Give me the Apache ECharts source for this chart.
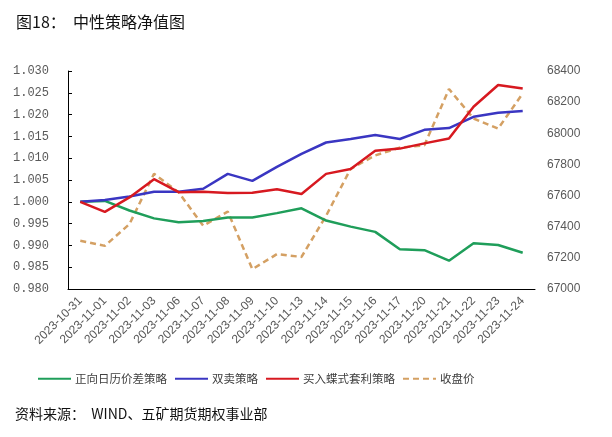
<!DOCTYPE html>
<html><head><meta charset="utf-8">
<script src="https://cdn.jsdelivr.net/npm/echarts@6/dist/echarts.min.js"></script>
<style>html,body{margin:0;padding:0;background:#fff}#c{width:612px;height:437px}</style>
</head><body><div id="c"></div>
<script>
var categories = ['2023-10-31','2023-11-01','2023-11-02','2023-11-03','2023-11-06','2023-11-07','2023-11-08','2023-11-09','2023-11-10','2023-11-13','2023-11-14','2023-11-15','2023-11-16','2023-11-17','2023-11-20','2023-11-21','2023-11-22','2023-11-23','2023-11-24'];
var calendarSpread = [1.0000,1.0002,0.9980,0.9962,0.9953,0.9956,0.9964,0.9964,0.9974,0.9985,0.9957,0.9943,0.9931,0.9891,0.9889,0.9865,0.9905,0.9901,0.9883];
var shortStraddle = [1.0000,1.0004,1.0012,1.0023,1.0023,1.0030,1.0064,1.0048,1.0080,1.0110,1.0136,1.0144,1.0153,1.0144,1.0165,1.0169,1.0195,1.0204,1.0208];
var butterfly = [1.0000,0.9977,1.0010,1.0052,1.0022,1.0023,1.0020,1.0021,1.0029,1.0018,1.0064,1.0075,1.0117,1.0122,1.0134,1.0145,1.0218,1.0268,1.0260];
var closePrice = [67310,67277,67417,67740,67621,67406,67497,67127,67224,67206,67470,67772,67858,67908,67923,68284,68095,68030,68256];
var seriesNames = ['正向日历价差策略','双卖策略','买入蝶式套利策略','收盘价'];
var titleText = '图18：  中性策略净值图';
var sourceText = '资料来源：  WIND、五矿期货期权事业部';

var chart = echarts.init(document.getElementById('c'));
var cjk = '"Noto Sans CJK SC","Noto Sans",sans-serif';
chart.setOption({
  animation: false,
  backgroundColor: '#fff',
  title: [
    {text: titleText, left: 16, top: 14, padding: 0, textStyle: {fontFamily: cjk, fontSize: 16, fontWeight: 'normal', color: '#111'}},
    {text: sourceText, left: 15, top: 407, padding: 0, textStyle: {fontFamily: cjk, fontSize: 14, fontWeight: 'normal', color: '#111'}}
  ],
  legend: {
    left: 37, top: 373, padding: 0, itemWidth: 33, itemHeight: 10, itemGap: 7,
    itemStyle: {opacity: 0},
    textStyle: {fontFamily: cjk, fontSize: 11.5, color: '#404040', padding: [0, 0, 0, -1]},
    data: seriesNames
  },
  grid: {left: 68, right: 77, top: 71, bottom: 148, containLabel: false},
  xAxis: {
    type: 'category', data: categories, boundaryGap: true,
    axisLine: {lineStyle: {color: '#000', width: 1}},
    axisTick: {interval: 1, length: 4, lineStyle: {color: '#000'}},
    axisLabel: {interval: 0, rotate: 45, fontSize: 12, color: '#595959', fontFamily: 'Liberation Sans, Arial, sans-serif', margin: 10}
  },
  yAxis: [
    {type: 'value', min: 0.98, max: 1.03, interval: 0.005,
     axisLine: {show: true, lineStyle: {color: '#000'}},
     axisTick: {show: true, inside: true, length: 4, lineStyle: {color: '#000'}},
     splitLine: {show: false},
     axisLabel: {formatter: function(v){return v.toFixed(3);}, fontSize: 12, color: '#595959', fontFamily: '"Liberation Mono","DejaVu Sans Mono",monospace', margin: 19}
    },
    {type: 'value', min: 67000, max: 68400, interval: 200,
     axisLine: {show: false}, axisTick: {show: false}, splitLine: {show: false},
     axisLabel: {formatter: function(v){return String(v);}, fontSize: 12, color: '#595959', fontFamily: 'Liberation Sans, Arial, sans-serif', margin: 12}
    }
  ],
  series: [
    {name: seriesNames[0], type: 'line', data: calendarSpread, symbol: 'none', yAxisIndex: 0, lineStyle: {color: '#1f9e5a', width: 2.5}, itemStyle: {color: '#1f9e5a'}},
    {name: seriesNames[1], type: 'line', data: shortStraddle, symbol: 'none', yAxisIndex: 0, lineStyle: {color: '#3a36c2', width: 2.5}, itemStyle: {color: '#3a36c2'}},
    {name: seriesNames[2], type: 'line', data: butterfly, symbol: 'none', yAxisIndex: 0, lineStyle: {color: '#d71920', width: 2.5}, itemStyle: {color: '#d71920'}},
    {name: seriesNames[3], type: 'line', data: closePrice, symbol: 'none', yAxisIndex: 1, z: 1, lineStyle: {color: '#d4a063', width: 2.5, type: [6, 4]}, itemStyle: {color: '#d4a063'}}
  ]
});
</script></body></html>
